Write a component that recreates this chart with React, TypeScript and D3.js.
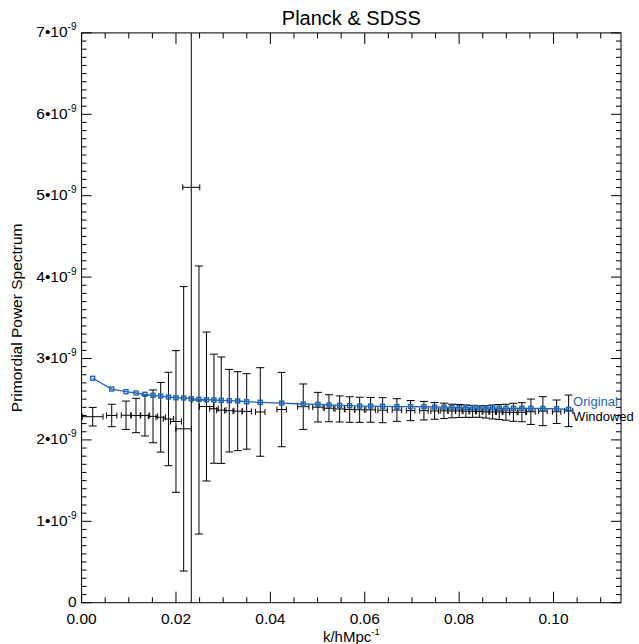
import React from "react";
import * as d3 from "d3";

// k values (h/Mpc)
const kValues = [
  0.00235, 0.00638, 0.00941, 0.01153, 0.01343, 0.01513, 0.01676, 0.01841, 0.0200, 0.02163,
  0.02324, 0.02487, 0.02646, 0.02805, 0.0296, 0.03129, 0.03307, 0.03498, 0.03786, 0.04239,
  0.04697, 0.05008, 0.05242, 0.05468, 0.0568, 0.05892, 0.06125, 0.06379, 0.06682, 0.06972,
  0.07254, 0.07481, 0.07678, 0.07847, 0.08002, 0.08144, 0.08286, 0.08426, 0.08568, 0.0871,
  0.0885, 0.08992, 0.0915, 0.0933, 0.09521, 0.09775, 0.10066, 0.1032,
];

// Original primordial power spectrum (units of 1e-9)
const originalP = [
  2.757, 2.625, 2.592, 2.576, 2.560, 2.548, 2.539, 2.527, 2.518, 2.515,
  2.506, 2.499, 2.494, 2.490, 2.486, 2.482, 2.478, 2.469, 2.462, 2.453,
  2.441, 2.437, 2.429, 2.425, 2.420, 2.416, 2.416, 2.413, 2.410, 2.408,
  2.407, 2.404, 2.402, 2.400, 2.398, 2.396, 2.394, 2.392, 2.392, 2.392,
  2.389, 2.388, 2.388, 2.389, 2.388, 2.386, 2.382, 2.376,
];

// Windowed spectrum (units of 1e-9)
const windowedP = [
  2.285, 2.300, 2.303, 2.300, 2.300, 2.289, 2.278, 2.257, 2.226, 2.136,
  5.103, 2.490, 2.410, 2.383, 2.365, 2.359, 2.353, 2.350, 2.343, 2.373,
  2.408, 2.402, 2.389, 2.380, 2.373, 2.370, 2.369, 2.365, 2.367, 2.360,
  2.359, 2.356, 2.357, 2.355, 2.355, 2.353, 2.351, 2.349, 2.345, 2.343,
  2.343, 2.340, 2.339, 2.340, 2.346, 2.353, 2.346, 2.357,
];

// Vertical error (units of 1e-9)
const windowedErr = [
  0.114, 0.138, 0.174, 0.211, 0.252, 0.324, 0.428, 0.574, 0.870, 1.747,
  6.5, 1.646, 0.915, 0.670, 0.654, 0.507, 0.485, 0.464, 0.544, 0.457,
  0.279, 0.182, 0.166, 0.160, 0.157, 0.154, 0.152, 0.154, 0.139, 0.124,
  0.114, 0.103, 0.095, 0.084, 0.080, 0.076, 0.074, 0.071, 0.076, 0.086,
  0.092, 0.098, 0.111, 0.117, 0.156, 0.178, 0.144, 0.194,
];

// Horizontal (window) half widths in k
const kHalfWidth = [
  0.0022, 0.0011, 0.0010, 0.0010, 0.0010, 0.0010, 0.0010, 0.0011, 0.00117, 0.00165,
  0.0018, 0.0015, 0.0015, 0.0009, 0.0010, 0.0010, 0.0010, 0.0010, 0.0010, 0.0010,
  0.0012, 0.0011, 0.0010, 0.0010, 0.0010, 0.0010, 0.0010, 0.0010, 0.0010, 0.0009,
  0.0009, 0.0008, 0.0008, 0.0008, 0.0008, 0.0008, 0.0008, 0.0008, 0.0008, 0.0008,
  0.0008, 0.0008, 0.0008, 0.0008, 0.0009, 0.0009, 0.0009, 0.0009,
];

const xMajorTicks = [0, 0.02, 0.04, 0.06, 0.08, 0.1];
const xTickLabels = ["0.00", "0.02", "0.04", "0.06", "0.08", "0.10"];
const yMajorTicks = [0, 1, 2, 3, 4, 5, 6, 7];
const yExponent = "-9";
const titleText = "Planck & SDSS";
const xTitle = "k/hMpc";
const xTitleSup = "-1";
const yTitle = "Primordial Power Spectrum";
const seriesNames = ["Original", "Windowed"];

const W = 639;
const H = 644;
const L = 81.6, R = 621, T = 32.9, B = 602.7;
const BLUE = "#1f66b8";
const FONT = "'Liberation Sans', Arial, Helvetica, sans-serif";

export default function App() {
  const x = d3.scaleLinear().domain([0, 0.1143]).range([L, R]);
  const y = d3.scaleLinear().domain([0, 7]).range([B, T]);

  const xMinor = d3.range(0, 0.1143, 0.005);
  const yMinor = d3.range(0, 7.0001, 0.1);

  const line = d3
    .line<number>()
    .x((_, i) => x(kValues[i]))
    .y((d) => y(d));

  const isMajorX = (v: number) => xMajorTicks.some((m) => Math.abs(m - v) < 1e-9);
  const isMajorY = (v: number) => yMajorTicks.some((m) => Math.abs(m - v) < 1e-6);

  const n = kValues.length;
  const lastX = x(kValues[n - 1]);

  return (
    <svg
      width={W}
      height={H}
      style={{ position: "absolute", left: 0, top: 0, background: "#fff" }}
      fontFamily={FONT}
    >
      <defs>
        <clipPath id="plotclip">
          <rect x={L} y={T} width={R - L} height={B - T} />
        </clipPath>
      </defs>
      <rect x={0} y={0} width={W} height={H} fill="#fff" />

      <text x={(L + R) / 2} y={25} textAnchor="middle" fontSize={20} fill="#000">
        {titleText}
      </text>

      <g clipPath="url(#plotclip)">
        {kValues.map((k, i) => {
          const cx = x(k);
          const cy = y(windowedP[i]);
          const y0 = y(windowedP[i] - windowedErr[i]);
          const y1 = y(windowedP[i] + windowedErr[i]);
          const xl = x(k - kHalfWidth[i]);
          const xr = x(k + kHalfWidth[i]);
          return (
            <g key={"w" + i} stroke="#000" strokeWidth={1} fill="none">
              <line x1={cx} x2={cx} y1={y0} y2={y1} />
              <line x1={cx - 4} x2={cx + 4} y1={y0} y2={y0} />
              <line x1={cx - 4} x2={cx + 4} y1={y1} y2={y1} />
              <line x1={xl} x2={xr} y1={cy} y2={cy} />
              <line x1={xl} x2={xl} y1={cy - 3} y2={cy + 3} />
              <line x1={xr} x2={xr} y1={cy - 3} y2={cy + 3} />
            </g>
          );
        })}
        <path d={line(originalP) || ""} stroke={BLUE} strokeWidth={1.3} fill="none" />
        {originalP.map((p, i) => (
          <rect
            key={"o" + i}
            x={x(kValues[i]) - 2}
            y={y(p) - 2}
            width={4}
            height={4}
            fill="none"
            stroke={BLUE}
            strokeWidth={1.4}
          />
        ))}
      </g>

      <rect x={L} y={T} width={R - L} height={B - T} fill="none" stroke="#000" strokeWidth={1} />

      {xMinor.map((v, i) => {
        const len = isMajorX(v) ? 11 : 5.5;
        const px = x(v);
        return (
          <g key={"xt" + i} stroke="#000" strokeWidth={1}>
            <line x1={px} x2={px} y1={B} y2={B - len} />
            <line x1={px} x2={px} y1={T} y2={T + len} />
          </g>
        );
      })}
      {yMinor.map((v, i) => {
        const len = isMajorY(v) ? 10 : 5;
        const py = y(v);
        return (
          <g key={"yt" + i} stroke="#000" strokeWidth={1}>
            <line x1={L} x2={L + len} y1={py} y2={py} />
            <line x1={R} x2={R - len} y1={py} y2={py} />
          </g>
        );
      })}

      {xMajorTicks.map((v, i) => (
        <text key={"xl" + i} x={x(v)} y={624} textAnchor="middle" fontSize={15.5} fill="#000">
          {xTickLabels[i]}
        </text>
      ))}
      {yMajorTicks.map((v) => (
        <text key={"yl" + v} x={76.5} y={y(v) + 4.5} textAnchor="end" fontSize={15.5} fill="#000">
          {v === 0 ? (
            "0"
          ) : (
            <>
              {`${v}\u202210`}
              <tspan fontSize={10} dy={-7}>
                {yExponent}
              </tspan>
            </>
          )}
        </text>
      ))}

      <text x={(L + R) / 2} y={641.5} textAnchor="middle" fontSize={15} fill="#000">
        {xTitle}
        <tspan fontSize={9.5} dy={-6.5}>
          {xTitleSup}
        </tspan>
      </text>
      <text
        transform={`translate(21.5, ${(T + B) / 2}) rotate(-90)`}
        textAnchor="middle"
        fontSize={15.5}
        fill="#000"
      >
        {yTitle}
      </text>

      <text x={lastX + 4.5} y={y(originalP[n - 1]) - 3.5} fontSize={13} fill={BLUE}>
        {seriesNames[0]}
      </text>
      <text x={lastX + 4.5} y={y(windowedP[n - 1]) + 10.5} fontSize={13} fill="#000">
        {seriesNames[1]}
      </text>
    </svg>
  );
}
